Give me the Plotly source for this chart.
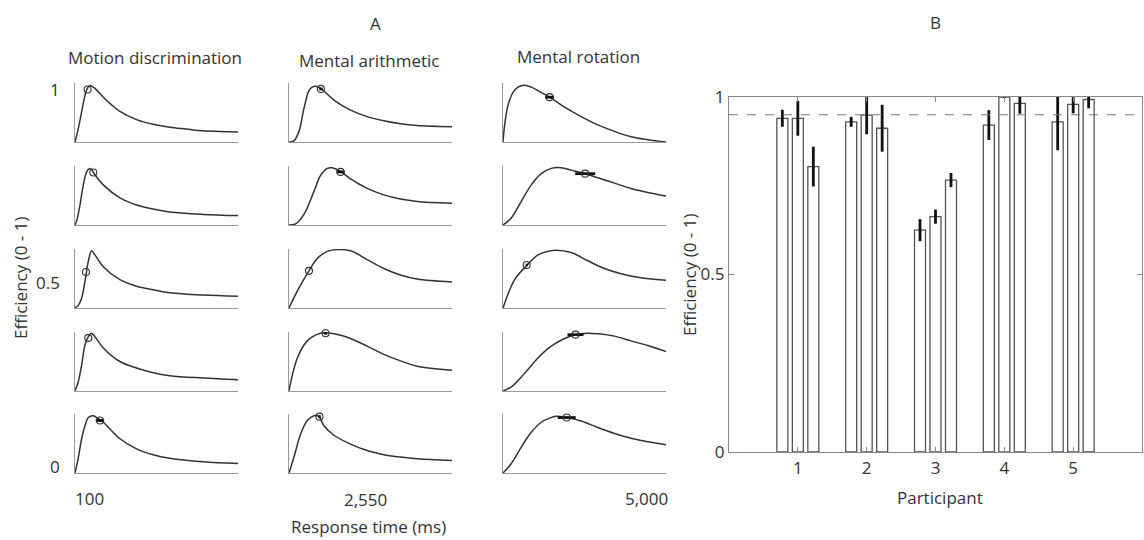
import plotly.graph_objects as go

W, H = 1144, 540

# ---------------- Panel A data (efficiency curves, normalised 0-1) ----------------
tasks = ["Motion discrimination", "Mental arithmetic", "Mental rotation"]

motion_rt = [
    [100, 200, 300, 400, 470, 550, 580, 700, 950, 1200, 1450, 1950, 2450, 2950, 3450, 3950, 4450, 5000],
    [100, 150, 250, 350, 450, 530, 600, 650, 950, 1450, 1950, 2450, 2950, 3950, 5000],
    [100, 200, 300, 400, 500, 600, 700, 950, 1450, 1950, 2450, 2950, 3950, 5000],
    [100, 200, 300, 400, 500, 600, 700, 950, 1450, 1950, 2450, 2950, 3950, 5000],
    [100, 200, 300, 400, 500, 650, 750, 950, 1450, 1950, 2450, 2950, 3950, 5000],
]
motion_eff = [
    [0, 0.23, 0.51, 0.79, 0.91, 0.955, 0.955, 0.91, 0.76, 0.63, 0.52, 0.38, 0.30, 0.25, 0.22, 0.19, 0.18, 0.17],
    [0, 0.07, 0.34, 0.68, 0.90, 0.955, 0.94, 0.89, 0.68, 0.46, 0.34, 0.27, 0.22, 0.18, 0.16],
    [0, 0.045, 0.17, 0.45, 0.79, 0.97, 0.90, 0.70, 0.48, 0.37, 0.31, 0.26, 0.22, 0.20],
    [0, 0.16, 0.44, 0.78, 0.92, 0.98, 0.92, 0.73, 0.50, 0.39, 0.31, 0.26, 0.22, 0.19],
    [0, 0.26, 0.58, 0.80, 0.94, 0.97, 0.94, 0.86, 0.58, 0.41, 0.31, 0.25, 0.19, 0.16],
]
motion_obs_rt = [480, 650, 430, 500, 850]
motion_obs_eff = [0.89, 0.89, 0.61, 0.90, 0.89]
motion_obs_err = [0, 0, 0, 0, 125]

arith_rt = [
    [100, 250, 400, 550, 700, 800, 900, 1070, 1450, 1950, 2450, 2950, 3450, 3950, 5000],
    [100, 300, 550, 850, 1050, 1250, 1400, 1670, 1950, 2450, 2950, 3450, 3950, 5000],
    [100, 400, 700, 950, 1250, 1550, 1950, 2450, 2950, 3450, 3950, 5000],
    [100, 200, 350, 550, 750, 1050, 1450, 1950, 2450, 2950, 3450, 3950, 5000],
    [100, 250, 450, 650, 850, 1000, 1150, 1450, 1950, 2450, 2950, 3450, 3950, 5000],
]
arith_eff = [
    [0, 0.02, 0.18, 0.57, 0.87, 0.93, 0.945, 0.90, 0.71, 0.54, 0.43, 0.36, 0.31, 0.28, 0.26],
    [0, 0.02, 0.18, 0.57, 0.84, 0.96, 0.97, 0.90, 0.78, 0.62, 0.51, 0.44, 0.40, 0.37],
    [0, 0.34, 0.63, 0.84, 0.96, 0.99, 0.97, 0.82, 0.67, 0.56, 0.49, 0.44],
    [0, 0.27, 0.56, 0.78, 0.90, 0.98, 0.97, 0.89, 0.76, 0.62, 0.51, 0.42, 0.35],
    [0, 0.27, 0.66, 0.89, 0.97, 0.955, 0.80, 0.64, 0.49, 0.38, 0.31, 0.27, 0.24, 0.21],
]
arith_obs_rt = [1060, 1650, 700, 1200, 1015]
arith_obs_eff = [0.90, 0.90, 0.63, 0.98, 0.955]
arith_obs_err = [50, 125, 0, 50, 40]

rot_rt = [
    [100, 150, 250, 400, 550, 750, 950, 1250, 1500, 1950, 2450, 2950, 3450, 3950, 4450, 5000],
    [100, 350, 650, 950, 1250, 1550, 1850, 2150, 2570, 2950, 3450, 3950, 5000],
    [100, 450, 830, 1150, 1450, 1700, 2150, 2650, 3150, 3650, 4150, 5000],
    [100, 350, 750, 1150, 1550, 1950, 2270, 2650, 2950, 3450, 3950, 4450, 5000],
    [100, 350, 650, 950, 1250, 1500, 1700, 2000, 2450, 2950, 3450, 3950, 4450, 5000],
]
rot_eff = [
    [0, 0.29, 0.62, 0.84, 0.93, 0.96, 0.93, 0.84, 0.76, 0.59, 0.43, 0.29, 0.18, 0.09, 0.04, 0.0],
    [0, 0.12, 0.40, 0.68, 0.87, 0.96, 0.97, 0.93, 0.87, 0.80, 0.71, 0.62, 0.49],
    [0, 0.48, 0.73, 0.90, 0.96, 0.98, 0.94, 0.80, 0.67, 0.58, 0.52, 0.47],
    [0, 0.07, 0.30, 0.56, 0.76, 0.89, 0.955, 0.98, 0.97, 0.93, 0.85, 0.77, 0.67],
    [0, 0.16, 0.44, 0.69, 0.86, 0.93, 0.96, 0.94, 0.88, 0.77, 0.67, 0.59, 0.53, 0.48],
]
rot_obs_rt = [1500, 2570, 812, 2280, 2015]
rot_obs_eff = [0.76, 0.87, 0.73, 0.955, 0.94]
rot_obs_err = [135, 300, 30, 240, 270]

rt_range = [100, 5000]
rt_tick_labels = ["100", "2,550", "5,000"]
eff_tick_labels = ["1", "0.5", "0"]

# ---------------- Panel B data ----------------
participants = [1, 2, 3, 4, 5]
eff_task1 = [0.940, 0.930, 0.625, 0.921, 0.930]
err_task1 = [0.024, 0.014, 0.031, 0.042, 0.080]
eff_task2 = [0.940, 0.949, 0.663, 1.000, 0.979]
err_task2 = [0.049, 0.054, 0.020, 0.003, 0.025]
eff_task3 = [0.804, 0.912, 0.766, 0.982, 0.993]
err_task3 = [0.056, 0.066, 0.020, 0.029, 0.025]
criterion = 0.95

# ---------------- Figure ----------------
FONT = "Open Sans"
FS = 17
TXT = "#333333"
AXC = "#9a9a9a"
CURVE = "#333333"

fig = go.Figure()

col_px = [(75, 238), (289, 452), (503, 666)]
row_top_px = [83, 166, 249, 332, 414]
row_h = 59

curves = [(motion_rt, motion_eff, motion_obs_rt, motion_obs_eff, motion_obs_err),
          (arith_rt, arith_eff, arith_obs_rt, arith_obs_eff, arith_obs_err),
          (rot_rt, rot_eff, rot_obs_rt, rot_obs_eff, rot_obs_err)]

layout_axes = {}
for c, (rts, effs, ort, oeff, oerr) in enumerate(curves):
    for r in range(5):
        k = r * 3 + c + 1
        xa = "x" if k == 1 else f"x{k}"
        ya = "y" if k == 1 else f"y{k}"
        fig.add_trace(go.Scatter(
            x=rts[r], y=effs[r], xaxis=xa, yaxis=ya, mode="lines",
            line=dict(color=CURVE, width=1.5, shape="spline", smoothing=1.0),
            showlegend=False, hoverinfo="skip", cliponaxis=False))
        fig.add_trace(go.Scatter(
            x=[ort[r]], y=[oeff[r]], xaxis=xa, yaxis=ya, mode="markers",
            marker=dict(symbol="circle-open", size=7, color="#333333", line=dict(width=1.1)),
            error_x=dict(type="data", array=[oerr[r]], visible=True, thickness=2.8,
                         width=0, color="#111111"),
            showlegend=False, hoverinfo="skip", cliponaxis=False))
        x0, x1 = col_px[c]
        y0 = row_top_px[r]
        y1 = y0 + row_h
        xname = "xaxis" if k == 1 else f"xaxis{k}"
        yname = "yaxis" if k == 1 else f"yaxis{k}"
        layout_axes[xname] = dict(domain=[x0 / W, x1 / W], range=rt_range, anchor=ya,
                                  showline=True, linecolor=AXC, linewidth=1.3,
                                  showgrid=False, zeroline=False, showticklabels=False,
                                  ticks="", automargin=False)
        layout_axes[yname] = dict(domain=[1 - y1 / H, 1 - y0 / H], range=[0, 1], anchor=xa,
                                  showline=True, linecolor=AXC, linewidth=1.3,
                                  showgrid=False, zeroline=False, showticklabels=False,
                                  ticks="", automargin=False)

# Panel B bars
bar_sets = [(eff_task1, err_task1), (eff_task2, err_task2), (eff_task3, err_task3)]
for vals, errs in bar_sets:
    fig.add_trace(go.Bar(
        x=participants, y=vals, xaxis="x16", yaxis="y16",
        marker=dict(color="white", line=dict(color="#555555", width=1.3)),
        error_y=dict(type="data", array=errs, visible=True, thickness=2.8, width=0,
                     color="#111111"),
        showlegend=False, hoverinfo="skip"))

layout_axes["xaxis16"] = dict(domain=[729 / W, 1142 / W], range=[0, 6], anchor="y16",
                              tickvals=participants, ticktext=[str(p) for p in participants],
                              ticks="inside", ticklen=5, tickcolor="#888888",
                              showline=True, linecolor="#888888", linewidth=1.2,
                              mirror="ticks", showgrid=False, zeroline=False,
                              automargin=False,
                              tickfont=dict(family=FONT, size=FS, color=TXT))
layout_axes["yaxis16"] = dict(domain=[1 - 452 / H, 1 - 97 / H], range=[0, 1], anchor="x16",
                              tickvals=[0, 0.5, 1], ticktext=["0", "0.5", "1"],
                              ticks="inside", ticklen=5, tickcolor="#888888",
                              showline=True, linecolor="#888888", linewidth=1.2,
                              mirror="ticks", showgrid=False, zeroline=False,
                              automargin=False,
                              tickfont=dict(family=FONT, size=FS, color=TXT))

shapes = [dict(type="line", xref="x16 domain", yref="y16", x0=0, x1=1,
               y0=criterion, y1=criterion, line=dict(color="#777777", width=1.2, dash="dash"))]


def ann(text, px, py, size=FS, angle=0, xanchor="center"):
    return dict(text=text, x=px / W, y=1 - py / H, xref="paper", yref="paper",
                showarrow=False, xanchor=xanchor, yanchor="middle", textangle=angle,
                font=dict(family=FONT, size=size, color=TXT))


annotations = [
    ann("A", 375, 23),
    ann("B", 935, 22),
    ann(tasks[0], 155, 58),
    ann(tasks[1], 369, 60),
    ann(tasks[2], 578, 57),
    ann("Efficiency (0 - 1)", 20, 278, angle=-90),
    ann(eff_tick_labels[0], 55, 90),
    ann(eff_tick_labels[1], 48, 282),
    ann(eff_tick_labels[2], 55, 466),
    ann(rt_tick_labels[0], 89, 498),
    ann(rt_tick_labels[1], 365, 499),
    ann(rt_tick_labels[2], 646, 498),
    ann("Response time (ms)", 368, 526),
    ann("Efficiency (0 - 1)", 689, 275, angle=-90),
    ann("Participant", 940, 497),
]

fig.update_layout(
    width=W, height=H, margin=dict(l=0, r=0, t=0, b=0, autoexpand=False),
    paper_bgcolor="white", plot_bgcolor="white",
    barmode="group", bargap=0.325, bargroupgap=0.29,
    shapes=shapes, annotations=annotations,
    font=dict(family=FONT, color=TXT),
    **layout_axes,
)

fig.write_html("out.html")
